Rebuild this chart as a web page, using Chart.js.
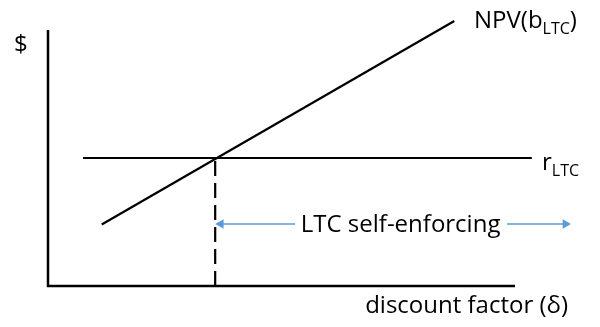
<!DOCTYPE html>
<html>
<head>
<meta charset="utf-8">
<script src="https://cdn.jsdelivr.net/npm/chart.js@4"></script>
<style>
  html, body { margin: 0; padding: 0; background: #fff; }
  #wrap { width: 600px; height: 327px; }
</style>
</head>
<body>
<div id="wrap"><canvas id="chart"></canvas></div>
<script>
// discount factor (x) and $ (y); the drawn axes run 0..1
const npv_x = [0.115, 0.87];
const npv_y = [0.24, 1.035];
const r_x = [0.075, 1.036];
const r_y = [0.5, 0.5];
const cut_x = [0.358, 0.358];
const cut_y = [0, 0.5];
const arrow_left_x = [0.529, 0.37];
const arrow_right_x = [0.983, 1.108];
const arrow_y = 0.242;
const label_x = 0.755;

const FONT = '"Open Sans", sans-serif';
const BLUE = '#5b9bd5';

const pts = (xs, ys) => xs.map((x, i) => ({ x: x, y: Array.isArray(ys) ? ys[i] : ys }));

// axes lines + labels, placed from the scales
const decor = {
    id: 'decor',
    afterDatasetsDraw(chart) {
        const { ctx, chartArea: a, scales: { x, y } } = chart;
        const x0 = x.getPixelForValue(0), y0 = y.getPixelForValue(0);
        ctx.save();
        ctx.strokeStyle = '#000';
        ctx.lineWidth = 2.5;
        ctx.beginPath();
        ctx.moveTo(x0, y.getPixelForValue(1));
        ctx.lineTo(x0, y0);
        ctx.lineTo(x.getPixelForValue(1), y0);
        ctx.stroke();

        ctx.fillStyle = '#000';
        ctx.textBaseline = 'alphabetic';
        ctx.font = '24px ' + FONT;
        ctx.textAlign = 'left';
        ctx.fillText('$', 14, 52);
        ctx.textAlign = 'right';
        ctx.fillText('discount factor (\u03b4)', 568, 313);
        ctx.textAlign = 'center';
        ctx.fillText('LTC self-enforcing', x.getPixelForValue(label_x), y.getPixelForValue(arrow_y) + 8);

        // label with subscript
        const sub = (main, s, px, py) => {
            ctx.textAlign = 'left';
            ctx.font = '24px ' + FONT;
            ctx.fillText(main, px, py);
            let w = ctx.measureText(main).width;
            ctx.font = '16px ' + FONT;
            ctx.fillText(s, px + w, py + 6);
            return px + w + ctx.measureText(s).width;
        };
        const end = sub('NPV(b', 'LTC', 474, 28);
        ctx.font = '24px ' + FONT;
        ctx.fillText(')', end, 28);
        sub('r', 'LTC', 542, 170);
        ctx.restore();
    }
};

new Chart(document.getElementById('chart'), {
    type: 'scatter',
    data: {
        datasets: [
            { data: pts(npv_x, npv_y), borderColor: '#000', borderWidth: 2.2 },
            { data: pts(r_x, r_y), borderColor: '#000', borderWidth: 2.2 },
            { data: pts(cut_x, cut_y), borderColor: '#000', borderWidth: 2.2, borderDash: [15, 7] },
            { data: pts(arrow_left_x, arrow_y), borderColor: BLUE, borderWidth: 1.6,
              pointStyle: 'triangle', pointRadius: [0, 5.5], pointRotation: -90, backgroundColor: BLUE, pointBorderWidth: 0 },
            { data: pts(arrow_right_x, arrow_y), borderColor: BLUE, borderWidth: 1.6,
              pointStyle: 'triangle', pointRadius: [0, 5.5], pointRotation: 90, backgroundColor: BLUE, pointBorderWidth: 0 }
        ].map(d => ({ showLine: true, pointRadius: 0, clip: false, ...d }))
    },
    options: {
        responsive: true,
        maintainAspectRatio: false,
        animation: false,
        // x: 0..1 spans 48..515 px, y: 0..1 spans 286..30 px
        layout: { padding: { left: 48, right: 600 - 48 - 467 * 1.16, top: 30 - 256 * 0.06, bottom: 41 } },
        plugins: { legend: { display: false }, tooltip: { enabled: false } },
        scales: {
            x: { type: 'linear', min: 0, max: 1.16, display: false },
            y: { type: 'linear', min: 0, max: 1.06, display: false }
        }
    },
    plugins: [decor]
});
</script>
</body>
</html>
